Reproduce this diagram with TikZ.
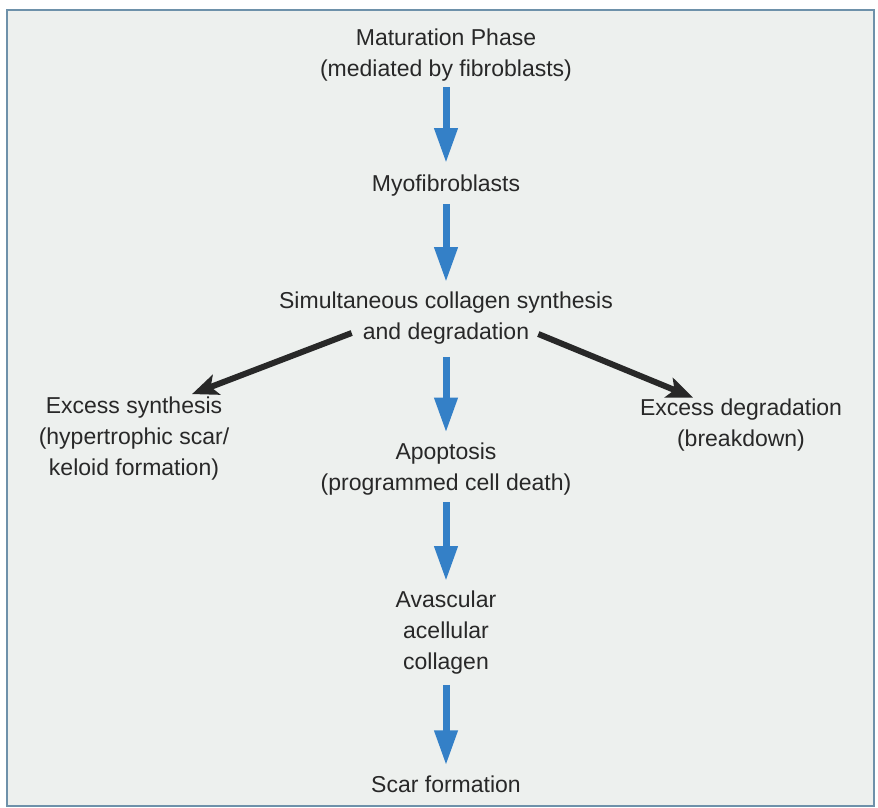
\documentclass[tikz,border=0pt]{standalone}
\usepackage{fontspec}
\setmainfont{Liberation Sans}
\usetikzlibrary{arrows.meta}

\definecolor{flowblue}{RGB}{52,128,199}
\definecolor{panelbg}{RGB}{237,240,238}
\definecolor{framecol}{RGB}{110,145,170}
\definecolor{inkgray}{RGB}{40,40,40}

\begin{document}
\begin{tikzpicture}[x=1pt, y=-1pt,
    phase/.style={align=center, font=\fontsize{23}{31}\selectfont, text=inkgray, inner sep=0pt},
    downarrow/.style={draw=flowblue, line width=7pt, -{Triangle[width=22pt,length=35pt]}},
    sidearrow/.style={draw=inkgray, line width=6pt, -{Stealth[width=21pt,length=26pt,inset=6pt]}}]
    % Panel and frame
    \useasboundingbox (0,0) rectangle (878,808);
    \fill[white] (0,0) rectangle (878,808);
    \draw[framecol, line width=2pt, fill=panelbg] (7,10) rectangle (874,806);

    % Main column
    \node[phase] (mat) at (446,55) {Maturation Phase\\(mediated by fibroblasts)};
    \node[phase] (myo) at (446,186) {Myofibroblasts};
    \node[phase] (sim) at (446,303) {Simultaneous collagen synthesis};
    \node[phase] (deg) at (446,334) {and degradation};
    \node[phase] (apo) at (446,469) {Apoptosis\\(programmed cell death)};
    \node[phase] (ava) at (446,633) {Avascular\\acellular\\collagen};
    \node[phase] (scar) at (446,784) {Scar formation};

    % Side outcomes
    \node[phase] (exsyn) at (134,439) {Excess synthesis\\(hypertrophic scar/\\keloid formation)};
    \node[phase] (exdeg) at (741,425) {Excess degradation\\(breakdown)};

    % Blue arrows down the column
    \draw[downarrow, shorten <=6pt, shorten >=12pt] (mat.south) -- (myo.north);
    \draw[downarrow, shorten <=7pt, shorten >=10pt] (myo.south) -- (sim.north);
    \draw[downarrow, shorten <=12pt, shorten >=10pt] (deg.south) -- (apo.north);
    \draw[downarrow, shorten <=7pt, shorten >=10pt] (apo.south) -- (ava.north);
    \draw[downarrow, shorten <=10pt, shorten >=10pt] (ava.south) -- (scar.north);

    % Black arrows to the sides
    \draw[sidearrow] ([xshift=-11pt,yshift=1pt]deg.west) -- ([xshift=58pt,yshift=3pt]exsyn.north);
    \draw[sidearrow] ([xshift=9pt,yshift=0pt]deg.east) -- ([xshift=-48pt,yshift=1pt]exdeg.north);
\end{tikzpicture}
\end{document}
